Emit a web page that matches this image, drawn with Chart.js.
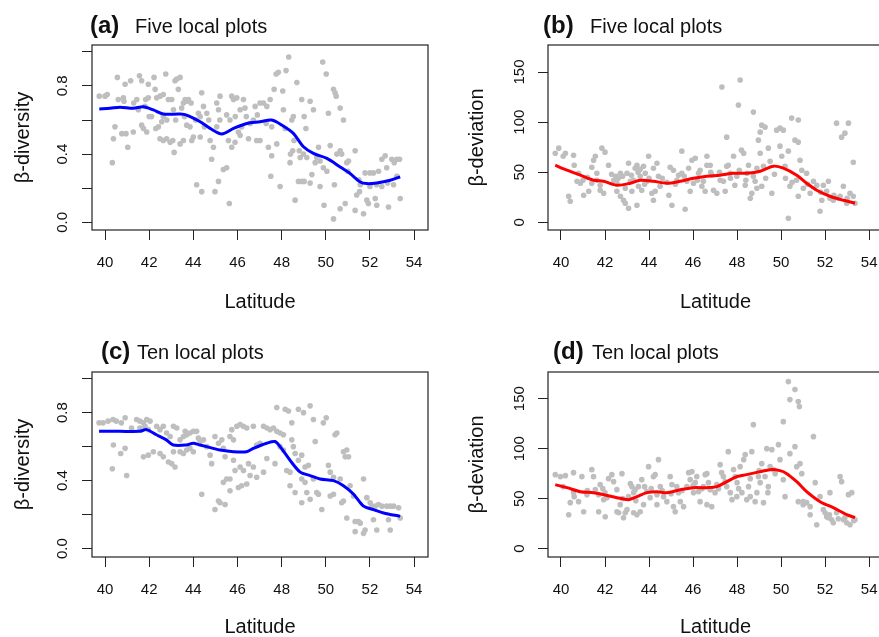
<!DOCTYPE html>
<html>
<head>
<meta charset="utf-8">
<script src="https://cdn.jsdelivr.net/npm/chart.js@4.4.1/dist/chart.umd.min.js"></script>
<style>
  html, body { margin: 0; padding: 0; background: #fff; overflow: hidden; }
  #wrap { position: relative; width: 879px; height: 637px; overflow: hidden;
          font-family: "Liberation Sans", Arial, Helvetica, sans-serif; color: #111; }
  canvas { position: absolute; }
  .tag { position: absolute; font-weight: bold; font-size: 24px; line-height: 24px; white-space: nowrap; }
  .sub { position: absolute; font-size: 20px; line-height: 20px; white-space: nowrap; }
</style>
</head>
<body>
<div id="wrap">
  <canvas id="pa" width="440" height="318" style="left:0;top:0"></canvas>
  <canvas id="pb" width="460" height="318" style="left:440px;top:0"></canvas>
  <canvas id="pc" width="440" height="330" style="left:0;top:318px"></canvas>
  <canvas id="pd" width="460" height="330" style="left:440px;top:318px"></canvas>
  <div class="tag" style="left:90px;top:13px">(a)</div><div class="sub" style="left:135px;top:16px">Five local plots</div>
  <div class="tag" style="left:543px;top:13px">(b)</div><div class="sub" style="left:590px;top:16px">Five local plots</div>
  <div class="tag" style="left:101px;top:339px">(c)</div><div class="sub" style="left:137px;top:342px">Ten local plots</div>
  <div class="tag" style="left:553px;top:339px">(d)</div><div class="sub" style="left:592px;top:342px">Ten local plots</div>
</div>
<script>
// latitude axis
const latTicks = [40, 42, 44, 46, 48, 50, 52, 54];
const divTicks = [0, 0.2, 0.4, 0.6, 0.8, 1.0];
const divLabels = ['0.0', '', '0.4', '', '0.8', ''];
const devTicks = [0, 50, 100, 150];
const devLabels = ['0', '50', '100', '150'];

// (a) five local plots, beta-diversity: [latitude, value]
const fiveDiv = [[39.74,0.74],[40.0,0.74],[40.1,0.75],[40.33,0.35],[40.45,0.56],[40.38,0.49],[40.56,0.85],[40.83,0.73],[40.86,0.71],[40.95,0.52],[40.76,0.52],[41.03,0.44],[40.91,0.81],[41.16,0.83],[41.28,0.53],[41.44,0.72],[41.51,0.66],[41.56,0.86],[41.66,0.83],[41.66,0.57],[41.74,0.55],[41.89,0.53],[41.84,0.72],[41.96,0.73],[41.81,0.68],[41.96,0.81],[42.11,0.62],[42.22,0.85],[42.27,0.78],[42.34,0.73],[42.49,0.74],[42.64,0.75],[42.42,0.56],[42.57,0.59],[42.64,0.62],[42.49,0.49],[42.64,0.48],[42.79,0.49],[42.75,0.87],[42.87,0.72],[43.02,0.72],[43.10,0.66],[42.95,0.47],[43.07,0.48],[43.13,0.41],[43.17,0.83],[43.25,0.84],[43.32,0.78],[43.40,0.85],[43.47,0.67],[43.55,0.70],[43.63,0.72],[43.70,0.71],[43.78,0.72],[43.40,0.46],[43.55,0.48],[43.70,0.57],[43.85,0.56],[43.93,0.48],[44.0,0.50],[44.15,0.22],[44.23,0.64],[44.31,0.62],[44.38,0.76],[44.38,0.18],[44.31,0.50],[44.46,0.68],[44.61,0.64],[44.76,0.48],[44.91,0.44],[44.83,0.37],[44.98,0.18],[45.14,0.24],[45.06,0.56],[45.21,0.74],[45.06,0.70],[45.14,0.66],[45.36,0.31],[45.51,0.32],[45.63,0.11],[45.51,0.63],[45.66,0.60],[45.74,0.74],[45.82,0.72],[45.97,0.73],[45.59,0.48],[45.74,0.44],[45.89,0.47],[46.04,0.53],[46.19,0.56],[46.12,0.51],[46.12,0.66],[46.27,0.72],[46.34,0.67],[46.50,0.49],[46.57,0.58],[46.72,0.60],[46.80,0.68],[46.87,0.48],[47.02,0.48],[47.02,0.70],[47.18,0.70],[47.33,0.68],[47.48,0.72],[47.55,0.56],[47.40,0.44],[47.55,0.39],[47.51,0.27],[47.66,0.78],[47.75,0.87],[47.85,0.88],[47.78,0.46],[47.93,0.21],[48.05,0.77],[48.08,0.66],[48.16,0.55],[48.20,0.89],[48.32,0.97],[48.38,0.35],[48.46,0.60],[48.53,0.62],[48.50,0.42],[48.56,0.48],[48.61,0.13],[48.69,0.82],[48.76,0.24],[48.91,0.24],[49.02,0.24],[48.84,0.38],[48.99,0.40],[49.14,0.38],[48.91,0.72],[49.02,0.62],[49.29,0.71],[49.44,0.66],[49.29,0.23],[49.37,0.28],[49.59,0.38],[49.67,0.44],[49.52,0.35],[49.74,0.36],[49.74,0.21],[49.86,0.94],[50.02,0.87],[49.92,0.10],[49.89,0.32],[50.05,0.30],[50.12,0.64],[50.20,0.45],[50.35,0.78],[50.42,0.76],[50.47,0.74],[50.35,0.02],[50.39,0.22],[50.65,0.67],[50.65,0.08],[50.65,0.42],[50.72,0.40],[50.80,0.60],[50.88,0.11],[50.95,0.35],[51.03,0.36],[51.33,0.42],[51.33,0.07],[51.40,0.16],[51.53,0.18],[51.56,0.22],[51.71,0.05],[51.78,0.29],[52.0,0.29],[52.16,0.29],[51.86,0.13],[51.93,0.11],[52.0,0.21],[52.24,0.14],[52.31,0.10],[52.39,0.30],[52.54,0.37],[52.69,0.39],[52.54,0.21],[52.76,0.32],[52.84,0.09],[52.99,0.37],[53.22,0.37],[53.34,0.37],[53.07,0.22],[53.22,0.27],[53.37,0.14],
  [42.0,0.62],[42.3,0.55],[42.8,0.60],[43.2,0.60],[43.6,0.62],[43.9,0.70],[44.1,0.60],[44.5,0.56],[44.7,0.60],[45.2,0.60],[45.9,0.62],[46.4,0.62],[46.9,0.63],[47.3,0.58],[48.4,0.40],[48.8,0.42],[49.1,0.55],[50.5,0.40],[51.0,0.30],[51.5,0.25],[52.3,0.22],[52.8,0.23],[53.1,0.35],[40.6,0.72],[41.3,0.70]];
const fiveDivFit = [[39.74,0.665],[40.23,0.669],[40.68,0.675],[41.28,0.669],[41.74,0.678],[42.19,0.659],[42.64,0.635],[43.40,0.635],[43.70,0.629],[44.31,0.59],[44.76,0.551],[45.29,0.518],[45.82,0.551],[46.42,0.58],[47.02,0.59],[47.55,0.60],[48.0,0.571],[48.53,0.522],[48.99,0.443],[49.44,0.404],[50.05,0.375],[50.65,0.325],[51.10,0.286],[51.56,0.237],[51.86,0.227],[52.31,0.231],[52.92,0.247],[53.37,0.267]];

// (b) five local plots, beta-deviation
const fiveDev = [[39.74,69],[39.9,74],[40.1,66],[40.2,69],[40.35,26],[40.42,21],[40.57,67],[40.73,41],[40.88,39],[40.8,49],[41.03,27],[41.26,31],[41.4,39],[41.4,55],[41.48,62],[41.56,66],[41.63,42],[41.78,37],[41.63,49],[41.78,32],[41.94,29],[41.86,74],[42.0,70],[42.16,57],[42.4,42],[42.5,46],[42.54,39],[42.54,31],[42.7,26],[42.84,22],[42.92,19],[43.07,14],[42.7,49],[42.8,46],[42.92,34],[43.0,49],[43.07,59],[43.15,41],[43.22,31],[43.3,42],[43.37,54],[43.45,57],[43.52,36],[43.45,17],[43.6,46],[43.67,32],[43.75,56],[43.83,49],[43.9,41],[43.98,66],[44.13,29],[44.2,22],[44.28,31],[44.2,54],[44.36,59],[44.43,46],[44.5,36],[44.96,55],[44.9,27],[45.04,17],[45.11,52],[45.26,42],[45.34,47],[45.49,49],[45.49,71],[45.64,13],[45.72,41],[45.8,54],[45.87,31],[45.95,62],[46.1,64],[46.02,39],[46.25,49],[46.32,52],[46.4,36],[46.47,41],[46.55,31],[46.63,57],[46.63,66],[46.78,57],[46.85,47],[46.93,32],[47.08,29],[47.23,42],[47.31,135],[47.38,41],[47.46,31],[47.53,85],[47.53,56],[47.6,57],[47.69,49],[47.84,66],[47.9,37],[47.99,46],[48.06,117],[48.14,142],[48.2,72],[48.3,69],[48.37,37],[48.45,49],[48.52,57],[48.6,24],[48.67,29],[48.74,110],[48.74,46],[48.82,41],[48.9,54],[48.97,82],[49.05,90],[49.12,97],[49.27,95],[49.05,69],[49.12,36],[49.2,56],[49.42,74],[49.5,61],[49.58,29],[49.8,92],[49.95,94],[50.1,92],[49.95,76],[50.03,66],[50.18,56],[50.33,71],[50.4,36],[50.33,4],[50.48,104],[50.78,102],[50.63,82],[50.78,80],[50.7,42],[50.78,26],[50.86,62],[50.94,52],[51.01,34],[51.16,49],[51.32,29],[51.47,41],[51.62,37],[51.77,11],[51.85,22],[51.92,37],[52.07,31],[52.15,41],[52.22,24],[52.37,22],[52.52,99],[52.68,26],[52.75,85],[52.9,89],[53.06,99],[52.83,36],[52.98,19],[53.13,29],[53.28,26],[53.28,60],[53.36,19],
  [42.3,48],[42.6,44],[43.2,47],[43.5,50],[43.6,53],[43.8,38],[44.0,44],[44.6,44],[44.8,40],[45.2,38],[45.6,46],[46.2,42],[46.8,50],[47.2,50],[47.7,44],[48.1,52],[48.4,42],[48.9,34],[49.3,44],[49.7,48],[50.2,44],[50.5,40],[51.2,38],[51.8,30],[52.4,27],[52.6,24],[53.0,24],[41.2,45],[41.0,42],[40.6,57]];
const fiveDevFit = [[39.74,57],[40.27,52],[40.88,47],[41.48,42],[41.94,41],[42.54,37],[43.15,39],[43.6,42],[44.2,41],[44.81,39],[45.42,41],[46.02,44],[46.63,46],[47.23,47],[47.84,49],[48.44,49],[49.05,51],[49.65,56],[50.1,54],[50.71,47],[51.16,39],[51.62,32],[52.22,26],[52.83,22],[53.36,19]];

// (c) ten local plots, beta-diversity
const tenDiv = [[39.73,0.74],[39.91,0.74],[40.14,0.75],[40.36,0.76],[40.51,0.75],[40.74,0.74],[40.38,0.61],[40.33,0.47],[40.71,0.56],[40.91,0.59],[40.98,0.43],[40.91,0.77],[41.2,0.71],[41.43,0.76],[41.58,0.75],[41.74,0.74],[41.89,0.76],[42.04,0.75],[41.58,0.71],[41.81,0.72],[41.96,0.70],[41.74,0.54],[41.96,0.55],[42.19,0.57],[42.34,0.72],[42.49,0.70],[42.64,0.72],[42.49,0.56],[42.64,0.54],[42.79,0.68],[42.95,0.66],[43.1,0.72],[43.25,0.71],[42.87,0.51],[43.02,0.50],[43.17,0.48],[43.1,0.57],[43.4,0.64],[43.55,0.66],[43.63,0.69],[43.7,0.67],[43.85,0.68],[44.0,0.69],[44.15,0.69],[43.4,0.57],[43.55,0.56],[43.7,0.58],[43.85,0.59],[44.0,0.57],[44.23,0.65],[44.31,0.63],[44.46,0.64],[44.38,0.32],[44.61,0.60],[44.76,0.55],[44.83,0.50],[44.98,0.66],[45.14,0.62],[44.98,0.23],[45.14,0.28],[45.21,0.27],[45.44,0.26],[45.29,0.64],[45.36,0.59],[45.44,0.54],[45.36,0.39],[45.51,0.41],[45.66,0.41],[45.66,0.66],[45.82,0.64],[45.74,0.70],[45.97,0.72],[46.12,0.73],[46.27,0.72],[46.42,0.71],[45.66,0.34],[45.89,0.46],[46.04,0.36],[46.19,0.37],[46.42,0.38],[45.82,0.52],[46.12,0.48],[46.27,0.46],[46.5,0.50],[46.72,0.48],[46.57,0.43],[46.87,0.42],[47.18,0.45],[46.72,0.72],[46.87,0.61],[47.02,0.62],[47.18,0.72],[47.33,0.71],[47.48,0.70],[47.63,0.71],[47.78,0.69],[47.93,0.68],[48.08,0.67],[47.33,0.53],[47.7,0.50],[47.78,0.83],[47.93,0.60],[48.08,0.58],[48.16,0.82],[48.31,0.81],[48.23,0.46],[48.38,0.45],[48.46,0.64],[48.53,0.60],[48.61,0.56],[48.46,0.74],[48.38,0.37],[48.61,0.33],[48.76,0.82],[48.99,0.80],[48.76,0.52],[48.91,0.55],[49.06,0.48],[48.91,0.41],[49.06,0.39],[49.21,0.49],[48.91,0.27],[49.14,0.33],[49.29,0.29],[49.29,0.84],[49.44,0.76],[49.52,0.63],[49.44,0.41],[49.59,0.33],[49.67,0.32],[49.82,0.23],[49.89,0.74],[50.02,0.77],[50.12,0.49],[50.2,0.45],[50.35,0.42],[50.2,0.31],[50.35,0.32],[50.42,0.67],[50.5,0.68],[50.65,0.41],[50.72,0.27],[50.8,0.28],[50.8,0.57],[50.88,0.54],[50.95,0.58],[50.95,0.18],[51.03,0.54],[51.1,0.37],[51.25,0.31],[51.33,0.16],[51.48,0.16],[51.56,0.15],[51.33,0.10],[51.71,0.09],[51.78,0.11],[51.71,0.41],[51.86,0.30],[52.01,0.27],[52.08,0.25],[52.24,0.25],[52.39,0.26],[52.54,0.25],[52.76,0.25],[52.92,0.25],[53.07,0.25],[53.3,0.24],[52.16,0.17],[52.31,0.11],[52.84,0.17],[52.92,0.11],[53.37,0.18]];
const tenDivFit = [[39.73,0.69],[40.67,0.69],[41.57,0.69],[41.88,0.70],[42.33,0.67],[42.78,0.64],[43.09,0.61],[43.69,0.61],[43.99,0.62],[44.3,0.61],[44.9,0.59],[45.2,0.58],[45.81,0.57],[46.41,0.57],[46.72,0.59],[47.32,0.62],[47.7,0.63],[47.93,0.60],[48.38,0.52],[48.84,0.45],[49.29,0.43],[49.74,0.41],[50.35,0.40],[50.8,0.37],[51.26,0.32],[51.71,0.25],[52.16,0.23],[52.62,0.21],[53.37,0.19]];

// (d) ten local plots, beta-deviation
const tenDev = [[39.74,74],[39.97,72],[40.2,73],[40.35,34],[40.42,46],[40.57,56],[40.57,76],[40.8,47],[40.95,72],[41.03,37],[41.18,54],[41.4,79],[41.48,72],[41.56,59],[41.71,54],[41.78,64],[41.71,37],[42.01,32],[41.94,49],[42.09,51],[42.16,70],[42.31,74],[42.39,67],[42.54,59],[42.54,37],[42.62,36],[42.69,44],[42.77,75],[42.84,31],[42.92,36],[43.0,39],[43.07,52],[43.15,65],[43.22,62],[43.3,56],[43.37,59],[43.52,62],[43.3,36],[43.45,34],[43.6,37],[43.67,69],[43.75,44],[43.9,57],[43.98,82],[44.05,51],[44.2,72],[44.28,74],[44.36,54],[44.36,44],[44.43,89],[44.51,62],[44.66,52],[44.81,47],[44.96,72],[45.04,64],[45.11,42],[45.19,37],[45.26,62],[45.34,56],[45.42,47],[45.57,42],[45.72,62],[45.8,76],[45.87,69],[45.95,77],[46.1,66],[46.17,72],[46.02,56],[46.25,57],[46.32,47],[46.47,62],[46.55,74],[46.63,75],[46.7,66],[46.78,59],[46.63,44],[46.85,42],[47.08,64],[47.16,60],[47.23,84],[47.38,72],[47.46,67],[47.53,62],[47.6,97],[47.69,56],[47.77,49],[47.84,79],[47.92,72],[47.99,52],[48.07,60],[48.14,82],[48.22,56],[48.3,89],[48.37,94],[48.44,49],[48.52,62],[48.6,52],[48.67,97],[48.74,124],[48.82,47],[48.9,56],[48.97,72],[49.05,66],[49.12,85],[49.2,46],[49.27,72],[49.35,100],[49.42,62],[49.5,82],[49.58,99],[49.65,79],[49.73,75],[49.88,104],[49.95,89],[50.1,69],[50.18,52],[50.1,127],[50.33,167],[50.4,149],[50.63,159],[50.78,147],[50.83,142],[50.4,95],[50.63,102],[50.71,82],[50.78,47],[50.86,85],[50.94,75],[51.01,47],[51.16,46],[51.32,42],[51.32,34],[51.47,112],[51.55,66],[51.62,24],[51.77,52],[51.92,39],[52.0,36],[52.07,32],[52.15,31],[52.22,56],[52.3,29],[52.37,26],[52.52,36],[52.68,72],[52.75,67],[52.83,29],[52.98,26],[53.13,24],[53.06,54],[53.21,56],[53.36,29],
  [42.0,56],[42.8,50],[43.4,48],[44.6,58],[45.5,58],[46.4,60],[47.0,56],[47.3,76],[48.0,66],[48.6,70],[49.0,78],[49.4,56],[52.2,34],[52.6,30],[52.9,31],[53.3,28],[51.0,44],[40.1,62],[40.6,52],[41.2,58],[41.9,60],[43.8,62],[44.1,60],[45.0,55],[46.0,63]];
const tenDevFit = [[39.74,64],[40.27,61],[40.88,57],[41.48,56],[41.94,54],[42.54,51],[43.07,49],[43.45,52],[43.9,56],[44.36,57],[44.81,56],[45.42,59],[46.02,61],[46.63,61],[47.08,62],[47.53,67],[47.99,72],[48.44,74],[49.05,77],[49.5,79],[49.95,78],[50.26,75],[50.71,67],[51.16,57],[51.77,47],[52.37,41],[52.98,34],[53.36,31]];

const family = '"Liberation Sans", Arial, Helvetica, sans-serif';

const boxPlugin = {
  id: 'box',
  afterDatasetsDraw(chart) {
    const { ctx, chartArea: a } = chart;
    ctx.save();
    ctx.strokeStyle = '#222';
    ctx.lineWidth = 1.2;
    ctx.strokeRect(a.left, a.top, a.right - a.left, a.bottom - a.top);
    ctx.restore();
  }
};

function panel(id, pts, fit, color, yMin, yMax, yTicks, yLabels, yTitle, g) {
  new Chart(document.getElementById(id), {
    type: 'scatter',
    data: {
      datasets: [
        {
          type: 'line',
          data: fit.map(p => ({ x: p[0], y: p[1] })),
          borderColor: color,
          borderWidth: 3,
          pointRadius: 0,
          tension: 0.3,
          fill: false,
        },
        {
          data: pts.map(p => ({ x: p[0], y: p[1] })),
          backgroundColor: '#bebebe',
          borderWidth: 0,
          pointRadius: 2.8,
        },
      ],
    },
    options: {
      responsive: false,
      animation: false,
      layout: { padding: { top: g.top, right: g.right, left: 0, bottom: 0 } },
      plugins: { legend: { display: false }, tooltip: { enabled: false } },
      scales: {
        x: {
          type: 'linear',
          min: 39.41,
          max: 54.63,
          afterBuildTicks: s => { s.ticks = latTicks.map(v => ({ value: v })); },
          afterFit: s => { s.height = g.xH; },
          border: { display: false },
          grid: { drawOnChartArea: false, drawTicks: true, tickLength: 10, color: '#222' },
          ticks: { font: { size: 15, family }, color: '#111', padding: 14, autoSkip: false, maxRotation: 0 },
          title: { display: true, text: 'Latitude', font: { size: 20, family }, color: '#111',
                   padding: { top: 0, bottom: g.xTitlePad } },
        },
        y: {
          type: 'linear',
          min: yMin,
          max: yMax,
          afterBuildTicks: s => { s.ticks = yTicks.map(v => ({ value: v })); },
          afterFit: s => { s.width = g.yW; },
          border: { display: false },
          grid: { drawOnChartArea: false, drawTicks: true, tickLength: 10, color: '#222' },
          ticks: {
            font: { size: 15, family }, color: '#111', padding: g.yTickPad, autoSkip: false,
            minRotation: 90, maxRotation: 90, crossAlign: 'center',
            callback: v => yLabels[yTicks.indexOf(v)],
          },
          title: { display: true, text: yTitle, font: { size: 20, family }, color: '#111',
                   padding: { top: g.yTitlePad, bottom: 0 } },
        },
      },
    },
    plugins: [boxPlugin],
  });
}

panel('pa', fiveDiv, fiveDivFit, '#0000ff', -0.045, 1.04, divTicks, divLabels, 'β-diversity',
  { top: 45, right: 12, yW: 92, xH: 88, xTitlePad: 4, yTitlePad: 11, yTickPad: 9 });
panel('pb', fiveDev, fiveDevFit, '#ff0000', -7.7, 177, devTicks, devLabels, 'β-deviation',
  { top: 45, right: 17, yW: 108, xH: 88, xTitlePad: 4, yTitlePad: 25, yTickPad: 6 });
panel('pc', tenDiv, tenDivFit, '#0000ff', -0.049, 1.039, divTicks, divLabels, 'β-diversity',
  { top: 54, right: 12, yW: 92, xH: 91, xTitlePad: 9, yTitlePad: 11, yTickPad: 9 });
panel('pd', tenDev, tenDevFit, '#ff0000', -8.3, 176.6, devTicks, devLabels, 'β-deviation',
  { top: 54, right: 17, yW: 108, xH: 91, xTitlePad: 9, yTitlePad: 25, yTickPad: 6 });
</script>
</body>
</html>
